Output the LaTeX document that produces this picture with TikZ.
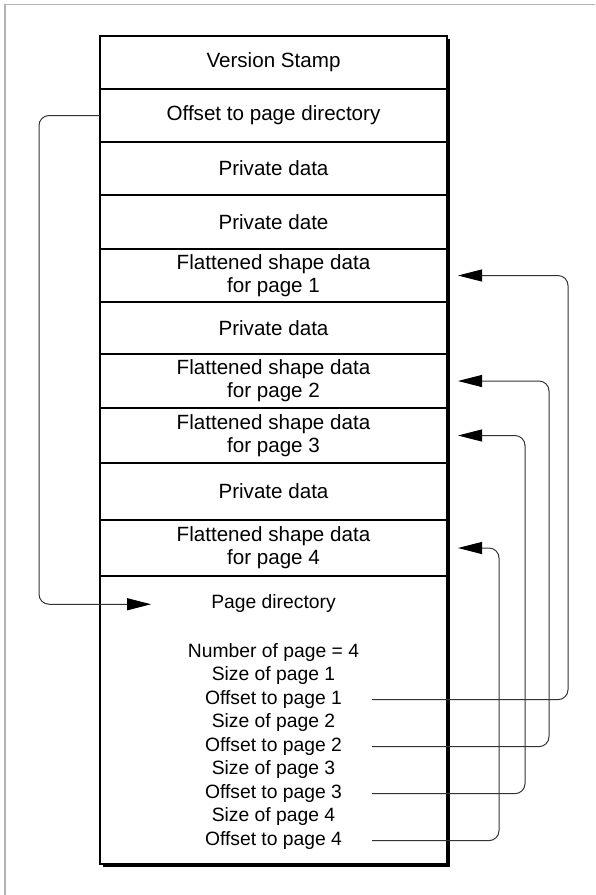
\documentclass[tikz,border=0pt]{standalone}
\usepackage{fontspec}
\setmainfont{Liberation Sans}
\usetikzlibrary{positioning}
\usetikzlibrary{calc, shadows, arrows.meta}

\tikzset{
  cell/.style={draw, line width=1.3pt, fill=white, minimum width=347pt, minimum height=53pt,
    inner sep=0pt, outer sep=0pt, align=center, font=\fontsize{20.6}{23}\selectfont,
    drop shadow={shadow xshift=2.5pt, shadow yshift=-2.5pt, fill=black, opacity=1}},
  entry/.style={inner sep=0pt, text height=16pt, text depth=7.1pt, font=\fontsize{19.3}{23}\selectfont},
  link/.style={draw=black!80, line width=1pt, rounded corners=10pt},
  tip/.style={-{Triangle[length=24pt, width=12pt, color=black]}}
}

\begin{document}
\begin{tikzpicture}[x=1pt, y=-1pt]
\useasboundingbox (0,0) rectangle (595,895);
% frame
\draw[gray!60, line width=1.5pt] (595,4.5) -- (5,4.5) -- (5,895);

% file layout
\node[cell] (stamp) at (273.5,62.5) {Version Stamp};
\node[cell, below=0pt of stamp] (dirofs) {Offset to page directory};
\node[cell, below=0pt of dirofs] (priv1) {Private data};
\node[cell, minimum height=54pt, below=0pt of priv1] (priv2) {Private date};
\node[cell, below=0pt of priv2] (flat1) {Flattened shape data\\for page 1};
\node[cell, minimum height=52pt, below=0pt of flat1] (priv3) {Private data};
\node[cell, minimum height=54pt, below=0pt of priv3] (flat2) {Flattened shape data\\for page 2};
\node[cell, minimum height=55pt, below=0pt of flat2] (flat3) {Flattened shape data\\for page 3};
\node[cell, minimum height=57pt, below=0pt of flat3] (priv4) {Private data};
\node[cell, minimum height=56pt, below=0pt of priv4] (flat4) {Flattened shape data\\for page 4};
\node[cell, minimum height=288pt, below=0pt of flat4] (dir) {};

% page directory
\node[entry, below=16.5pt of dir.north] (dtitle) {Page directory};
\node[entry, below=24.9pt of dtitle] (count) {Number of page = 4};
\node[entry, below=0pt of count] (size1) {Size of page 1};
\node[entry, below=0pt of size1] (ofs1) {Offset to page 1};
\node[entry, below=0pt of ofs1] (size2) {Size of page 2};
\node[entry, below=0pt of size2] (ofs2) {Offset to page 2};
\node[entry, below=0pt of ofs2] (size3) {Size of page 3};
\node[entry, below=0pt of size3] (ofs3) {Offset to page 3};
\node[entry, below=0pt of ofs3] (size4) {Size of page 4};
\node[entry, below=0pt of size4] (ofs4) {Offset to page 4};

% lanes
\coordinate (lane0) at (39,0);
\foreach \i/\x in {1/568, 2/549, 3/525, 4/499}
  \coordinate (lane\i) at (\x,0);

% arrows
\draw[link, tip, shorten >=60pt] (dirofs.west) -- (dirofs.west -| lane0)
  -- (dtitle.west -| lane0) -- (dtitle.west);
\foreach \i in {1,...,4}
  \draw[link, tip, shorten <=30pt, shorten >=11pt] (ofs\i.east) -- (ofs\i.east -| lane\i)
    -- (flat\i.east -| lane\i) -- (flat\i.east);

\end{tikzpicture}
\end{document}
